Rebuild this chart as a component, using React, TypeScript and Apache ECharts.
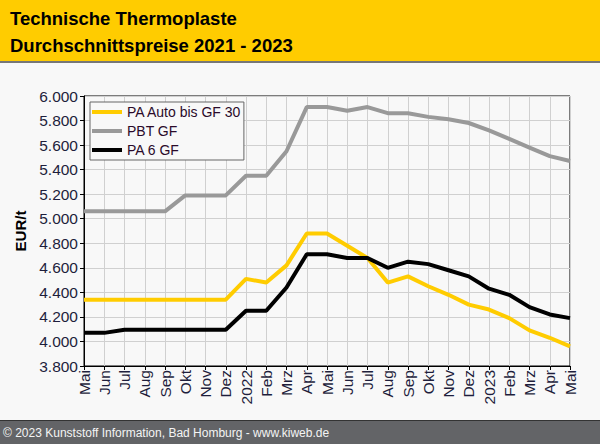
import React, { useEffect, useRef } from "react";
import * as echarts from "echarts";

const categories = ["Mai", "Jun", "Jul", "Aug", "Sep", "Okt", "Nov", "Dez", "2022", "Feb", "Mrz", "Apr", "Mai", "Jun", "Jul", "Aug", "Sep", "Okt", "Nov", "Dez", "2023", "Feb", "Mrz", "Apr", "Mai"];
const paAuto = [4340, 4340, 4340, 4340, 4340, 4340, 4340, 4340, 4510, 4480, 4620, 4880, 4880, 4780, 4680, 4480, 4530, 4450, 4380, 4300, 4260, 4190, 4090, 4030, 3960];
const pbtGf = [5060, 5060, 5060, 5060, 5060, 5190, 5190, 5190, 5350, 5350, 5550, 5910, 5910, 5880, 5910, 5860, 5860, 5830, 5810, 5780, 5720, 5650, 5580, 5510, 5470];
const pa6Gf = [4070, 4070, 4095, 4095, 4095, 4095, 4095, 4095, 4250, 4250, 4440, 4710, 4710, 4680, 4680, 4600, 4650, 4630, 4580, 4530, 4430, 4380, 4280, 4220, 4190];
const seriesNames = ["PA Auto bis GF 30", "PBT GF", "PA 6 GF"];
const titleLines = ["Technische Thermoplaste", "Durchschnittspreise 2021 - 2023"];
const footerText = "© 2023 Kunststoff Information, Bad Homburg - www.kiweb.de";

const FONT = "'Liberation Sans', Arial, sans-serif";
const LABEL_COLOR = "#1e1e3c";

function fmt(v: number): string {
  const t = Math.floor(v / 1000);
  const r = String(v % 1000).padStart(3, "0");
  return `${t}.${r}`;
}

export default function App() {
  const ref = useRef<HTMLDivElement>(null);
  useEffect(() => {
    document.body.style.margin = "0";
    const chart = echarts.init(ref.current!, null, { renderer: "svg" });
    chart.setOption({
      animation: false,
      backgroundColor: "#f8f8f8",
      textStyle: { fontFamily: FONT },
      graphic: [
        { type: "rect", shape: { x: 0, y: 0, width: 600, height: 61 }, style: { fill: "#ffcc00" }, z: -1 },
        { type: "rect", shape: { x: 0, y: 61, width: 600, height: 2 }, style: { fill: "#777777" }, z: -1 },
        { type: "text", x: 10, y: 18, style: { text: titleLines[0], font: `bold 18.5px ${FONT}`, fill: "#000", textVerticalAlign: "middle" } },
        { type: "text", x: 10, y: 45, style: { text: titleLines[1], font: `bold 18.5px ${FONT}`, fill: "#000", textVerticalAlign: "middle" } },
        { type: "rect", shape: { x: 0, y: 420, width: 600, height: 24 }, style: { fill: "#636467" }, z: -1 },
        { type: "rect", shape: { x: 0, y: 420, width: 600, height: 1 }, style: { fill: "#333333" }, z: -1 },
        { type: "text", x: 3, y: 433, style: { text: footerText, font: `12px ${FONT}`, fill: "#f4f4f4", textVerticalAlign: "middle" } },
      ],
      legend: {
        show: true,
        orient: "vertical",
        left: 90,
        top: 102,
        data: seriesNames,
        icon: "rect",
        itemWidth: 30,
        itemHeight: 4,
        itemGap: 5,
        padding: [3, 2, 3, 2],
        borderColor: "#666666",
        borderWidth: 1,
        backgroundColor: "#f8f8f8",
        textStyle: { fontSize: 14, lineHeight: 14, color: "#2a0a2a", fontFamily: FONT },
      },
      grid: {
        left: 84,
        right: 30,
        top: 96,
        bottom: 78,
        show: true,
        borderColor: "#000",
        borderWidth: 1,
        backgroundColor: "transparent",
      },
      xAxis: {
        type: "category",
        data: categories,
        boundaryGap: false,
        axisLine: { lineStyle: { color: "#000", width: 1 } },
        axisTick: { show: true, length: 4, lineStyle: { color: "#000" }, interval: 0 },
        axisLabel: { interval: 0, rotate: 90, fontSize: 15.5, color: LABEL_COLOR, fontFamily: FONT, margin: 4 },
        splitLine: { show: true, interval: 0, lineStyle: { color: "#d0d0d0", width: 1 } },
      },
      yAxis: {
        type: "value",
        min: 3800,
        max: 6000,
        interval: 200,
        name: "EUR/t",
        nameLocation: "middle",
        nameGap: 55,
        nameRotate: 90,
        nameTextStyle: { fontSize: 15, fontWeight: "bold", color: "#000", fontFamily: FONT },
        axisLine: { show: true, lineStyle: { color: "#000", width: 1 } },
        axisTick: { show: true, length: 4, lineStyle: { color: "#000" } },
        axisLabel: { fontSize: 15.5, color: LABEL_COLOR, fontFamily: FONT, margin: 6, formatter: (v: number) => fmt(v) },
        splitLine: { show: true, lineStyle: { color: "#d0d0d0", width: 1 } },
      },
      series: [
        { name: seriesNames[0], type: "line", data: paAuto, symbol: "none", lineStyle: { color: "#ffcc00", width: 4 }, itemStyle: { color: "#ffcc00" } },
        { name: seriesNames[1], type: "line", data: pbtGf, symbol: "none", lineStyle: { color: "#999999", width: 4 }, itemStyle: { color: "#999999" } },
        { name: seriesNames[2], type: "line", data: pa6Gf, symbol: "none", lineStyle: { color: "#000000", width: 4 }, itemStyle: { color: "#000000" } },
      ],
    });
    return () => chart.dispose();
  }, []);
  return <div ref={ref} style={{ width: 600, height: 444 }} />;
}
